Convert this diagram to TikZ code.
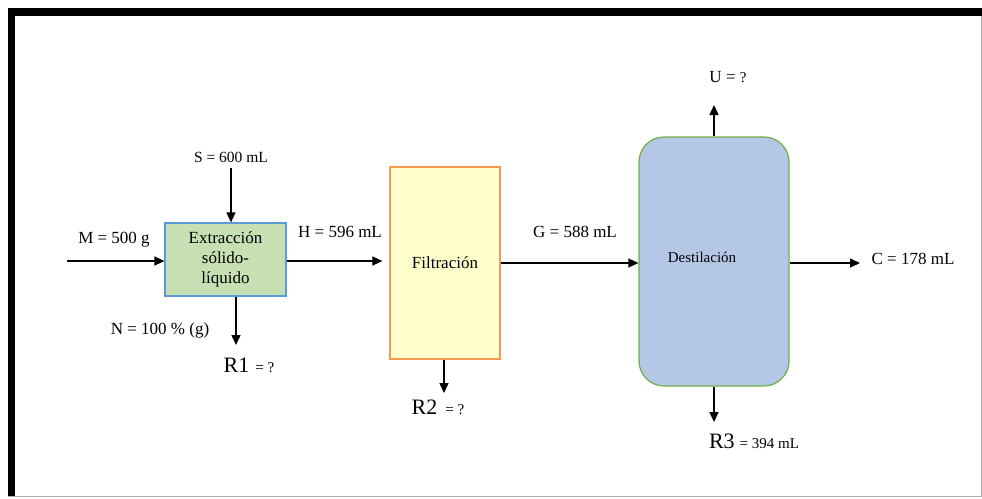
\documentclass[tikz,border=0pt]{standalone}
\usepackage{fontspec}
\setmainfont{Liberation Serif}
\usetikzlibrary{arrows.meta}
\definecolor{extfill}{HTML}{C6E0B4}
\definecolor{extdraw}{HTML}{5B9BD5}
\definecolor{filfill}{HTML}{FFFFCC}
\definecolor{fildraw}{HTML}{F39A4E}
\definecolor{desfill}{HTML}{B4C7E7}
\definecolor{desdraw}{HTML}{70AD47}
\tikzset{
  arr/.style={line width=1.5pt,-{Triangle[length=10pt,width=9pt]}},
  lbl/.style={inner sep=0pt,font=\fontsize{17}{19}\selectfont},
  unit/.style={draw,line width=1.2pt,inner sep=0pt,align=center,font=\fontsize{17}{20}\selectfont},
}
\newcommand{\Rbig}[1]{{\fontsize{22}{24}\selectfont #1}}
\newcommand{\Rsmall}[1]{{\fontsize{15}{17}\selectfont #1}}
\begin{document}
\begin{tikzpicture}[x=1pt,y=-1pt]
\useasboundingbox (0,0) rectangle (982,498);
% frame
\draw[gray!60,line width=1pt] (8,496) -- (981,496) -- (981,8);
\fill[black] (8,8) rectangle (982,16);
\fill[black] (8,8) rectangle (15,496);
% units
\node[unit,fill=extfill,draw=extdraw,minimum width=121pt,minimum height=73pt] (ext) at (225.5,259.5) {Extracción\\sólido-\\líquido};
\node[unit,fill=filfill,draw=fildraw,minimum width=110pt,minimum height=192pt] (fil) at (445,263) {Filtración};
\node[unit,fill=desfill,draw=desdraw,rounded corners=25pt,minimum width=150pt,minimum height=249pt] (des) at (714,261.5) {};
\node[inner sep=0pt,font=\fontsize{15}{17}\selectfont] (destxt) at (702,257) {Destilación};
% labels
\node[lbl,font=\fontsize{15.5}{17}\selectfont] (S) at (231,157) {S = 600 mL};
\node[lbl] (M) at (114,240) {M = 500 g};
\node[lbl] (H) at (340,232) {H = 596 mL};
\node[lbl] (N) at (160,330) {N = 100 \% (g)};
\node[lbl] (G) at (575,232) {G = 588 mL};
\node[lbl] (U) at (728,77) {U = \Rsmall{?}};
\node[lbl] (C) at (913,259) {C = 178 mL};
\node[inner sep=0pt] (R1) at (249,365) {\Rbig{R1}\hspace{6pt}\Rsmall{= ?}};
\node[inner sep=0pt] (R2) at (438,407) {\Rbig{R2}\hspace{8pt}\Rsmall{= ?}};
\node[inner sep=0pt] (R3) at (754,441) {\Rbig{R3}\hspace{5pt}\Rsmall{= 394 mL}};
% coordinates
\coordinate (min) at (67,261);
\coordinate (sTop) at (231,168);
\coordinate (r1end) at (236,345);
\coordinate (r2end) at (444,393);
\coordinate (uend) at (714,105);
\coordinate (cend) at (860,263);
\coordinate (r3end) at (714,422);
% connectors
\draw[arr] (sTop) -- (sTop |- ext.north);
\draw[arr] (min) -- (min -| ext.west);
\draw[arr] (min -| ext.east) -- ([xshift=-7pt]min -| fil.west);
\draw[arr] (r1end |- ext.south) -- (r1end);
\draw[arr] (fil.east) -- (fil.east -| des.west);
\draw[arr] (r2end |- fil.south) -- (r2end);
\draw[arr] (des.north) -- (uend);
\draw[arr] (cend -| des.east) -- (cend);
\draw[arr] (des.south) -- (r3end);
\end{tikzpicture}
\end{document}
